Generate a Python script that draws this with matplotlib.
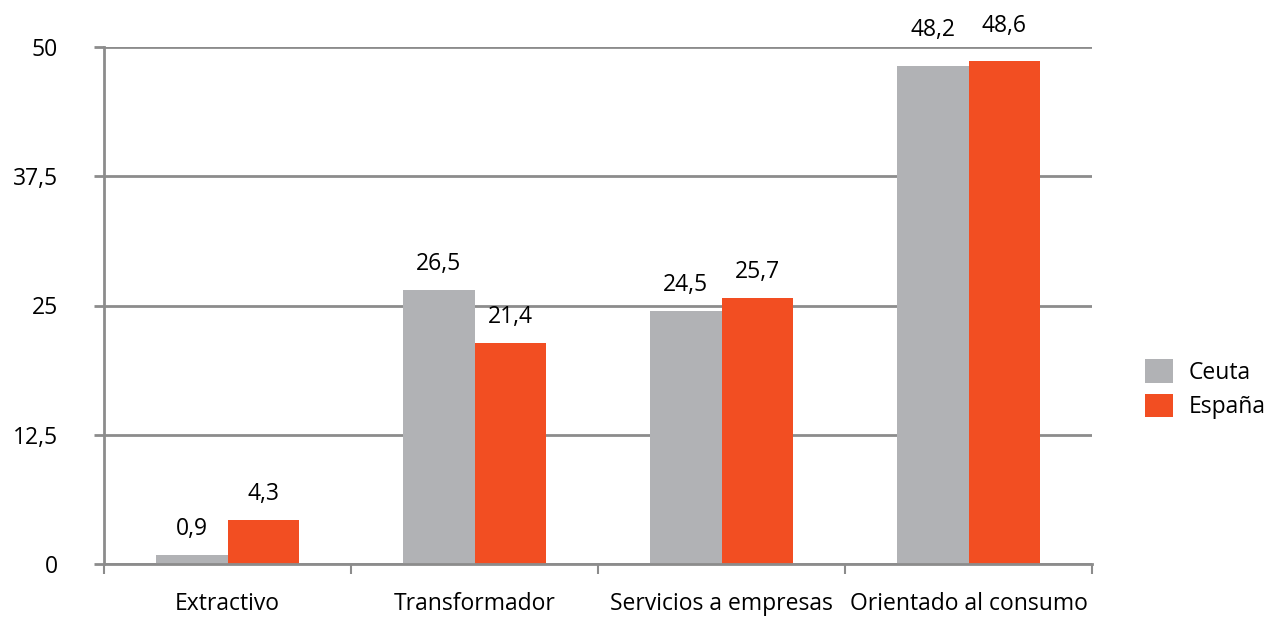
import matplotlib.pyplot as plt
import numpy as np

categories = ['Extractivo', 'Transformador', 'Servicios a empresas', 'Orientado al consumo']
ceuta = [0.9, 26.5, 24.5, 48.2]
espana = [4.3, 21.4, 25.7, 48.6]
yticks = [0, 12.5, 25, 37.5, 50]
ytick_labels = ['0', '12,5', '25', '37,5', '50']

grey = '#B1B2B5'
orange = '#F24E22'
axis_col = '#8C8C8C'
fs = 16.5

plt.rcParams['font.family'] = ['Open Sans', 'DejaVu Sans']

fig = plt.figure(figsize=(12.64, 6.19), dpi=100)
ax = fig.add_axes([104 / 1264, 55 / 619, 988 / 1264, 517 / 619])

x = np.arange(len(categories))
w = 0.29
b1 = ax.bar(x - w / 2, ceuta, w, color=grey, label='Ceuta')
b2 = ax.bar(x + w / 2, espana, w, color=orange, label='España')

for bars, vals in ((b1, ceuta), (b2, espana)):
    for rect, v in zip(bars, vals):
        # labels near the top of the plot sit a bit higher in the original
        off = 17 if v > 45 else 10
        ax.annotate(f'{v:.1f}'.replace('.', ','),
                    (rect.get_x() + rect.get_width() / 2, rect.get_height()),
                    xytext=(0, off), textcoords='offset points',
                    ha='center', va='bottom', fontsize=fs, annotation_clip=False)

ax.set_xlim(-0.5, len(categories) - 0.5)
ax.set_ylim(0, 50)
ax.set_yticks(yticks)
ax.set_yticklabels(ytick_labels, fontsize=fs)
ax.yaxis.grid(True, color=axis_col, linewidth=2)
ax.set_axisbelow(True)

ax.set_xticks(np.arange(-0.5, len(categories)), minor=False)
ax.set_xticklabels([])
ax.set_xticks(x, minor=True)
ax.set_xticklabels(categories, minor=True, fontsize=fs)
ax.tick_params(axis='x', which='major', length=7, width=1.5, color=axis_col, direction='out')
ax.tick_params(axis='x', which='minor', length=0, pad=20)
ax.tick_params(axis='y', length=7, width=2, color=axis_col, pad=26)

for s in ('top', 'right'):
    ax.spines[s].set_visible(False)
for s in ('left', 'bottom'):
    ax.spines[s].set_color(axis_col)
    ax.spines[s].set_linewidth(2)

ax.legend(loc='center left', bbox_to_anchor=(1.033, 0.338), frameon=False,
          fontsize=fs, handlelength=1.2, handleheight=1.2, handletextpad=0.7,
          labelspacing=0.4)

fig.savefig('out.png', dpi=100)
